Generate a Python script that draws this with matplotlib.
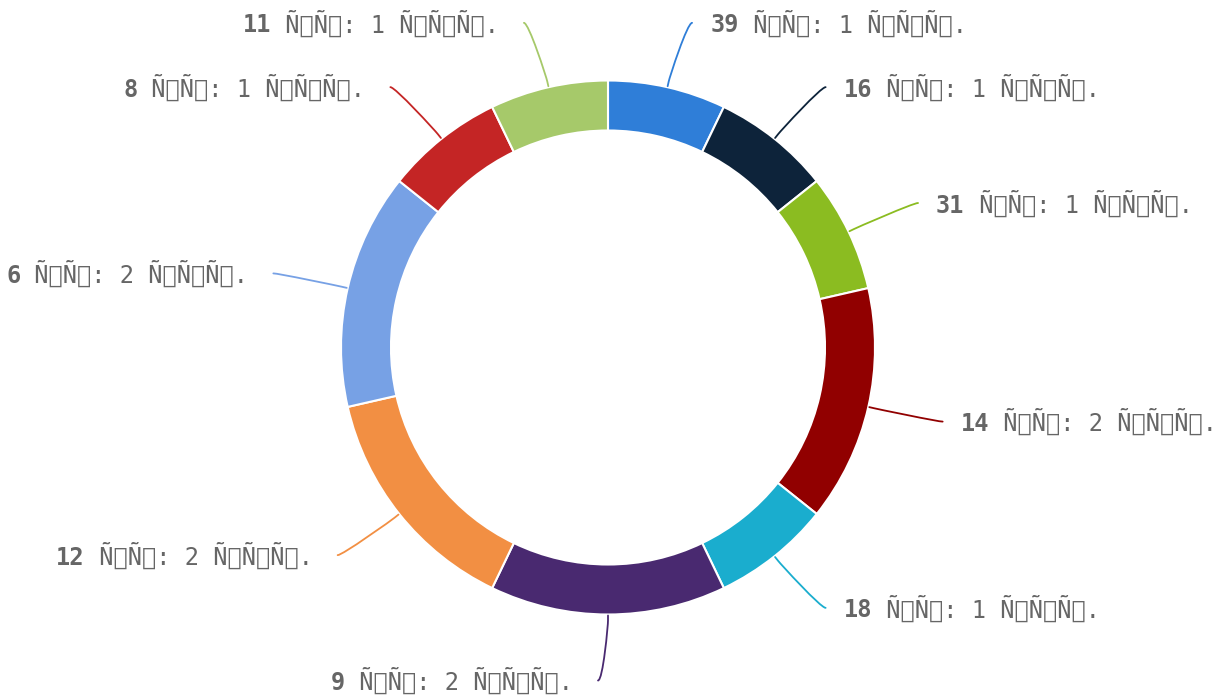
import numpy as np
import matplotlib
matplotlib.use("Agg")
import matplotlib.pyplot as plt
from matplotlib.path import Path
from matplotlib.patches import PathPatch

# ---- data ----
names = ["39", "16", "31", "14", "18", "9", "12", "6", "8", "11"]
values = [1, 1, 1, 2, 1, 2, 2, 2, 1, 1]
units = "Ñ\x88Ñ\x82"
qty = "Ñ\x88Ñ\x82Ñ\x83."
value_text = [f"{v} {qty}" for v in values]
colors = ["#2f7ed8", "#0d233a", "#8bbc21", "#910000", "#1aadce",
          "#492970", "#f28f43", "#77a1e5", "#c42525", "#a6c96a"]

# ---- layout ----
W, H = 1222, 697
cx, cy = 608, H - 347.5
R, ring = 267, 50
r_label = 333
fig = plt.figure(figsize=(W / 100, H / 100), dpi=100)
ax = fig.add_axes([0, 0, 1, 1])

ax.pie(values, colors=colors, startangle=90, counterclock=False,
       radius=R, center=(cx, cy),
       wedgeprops=dict(width=ring, edgecolor="white", linewidth=1.5))
ax.set_xlim(0, W)
ax.set_ylim(0, H)
ax.set_aspect("equal")
ax.axis("off")

total = sum(values)
cum = np.cumsum([0] + values)
text_color = "#666666"
fs = 17
mono = "DejaVu Sans Mono"
for i, name in enumerate(names):
    mid = (cum[i] + cum[i + 1]) / 2 / total * 2 * np.pi  # clockwise from top
    s, c = np.sin(mid), np.cos(mid)
    left = mid >= np.pi - 1e-9
    side = -1 if left else 1
    touch = (cx + 268 * s, cy + 268 * c)
    brk = (cx + 273 * s, cy + 273 * c)
    c2 = (2 * brk[0] - touch[0], 2 * brk[1] - touch[1])
    corner = (cx + r_label * s, cy + r_label * c)
    end = (corner[0] + side * 10, corner[1])
    c1 = (end[0] - side * 5, end[1])
    verts = [end, c1, c2, brk, touch]
    codes = [Path.MOVETO, Path.CURVE4, Path.CURVE4, Path.CURVE4, Path.LINETO]
    ax.add_patch(PathPatch(Path(verts, codes), fill=False, edgecolor=colors[i],
                           linewidth=1.3, capstyle="round"))
    ty = end[1] - 9.5  # baseline
    rest = " " + units + ": " + value_text[i]
    if left:
        t2 = ax.text(end[0] - 25, ty, rest, ha="right", va="baseline",
                     fontsize=fs, family=mono, color=text_color)
        ax.annotate(name, xy=(0, ty), xycoords=(t2, "data"), ha="right",
                    va="baseline", fontsize=fs, family=mono,
                    fontweight="bold", color=text_color)
    else:
        t1 = ax.text(end[0] + 18, ty, name, ha="left", va="baseline",
                     fontsize=fs, family=mono, fontweight="bold",
                     color=text_color)
        ax.annotate(rest, xy=(1, ty), xycoords=(t1, "data"), ha="left",
                    va="baseline", fontsize=fs, family=mono,
                    color=text_color)

fig.savefig("out.png", dpi=100)
